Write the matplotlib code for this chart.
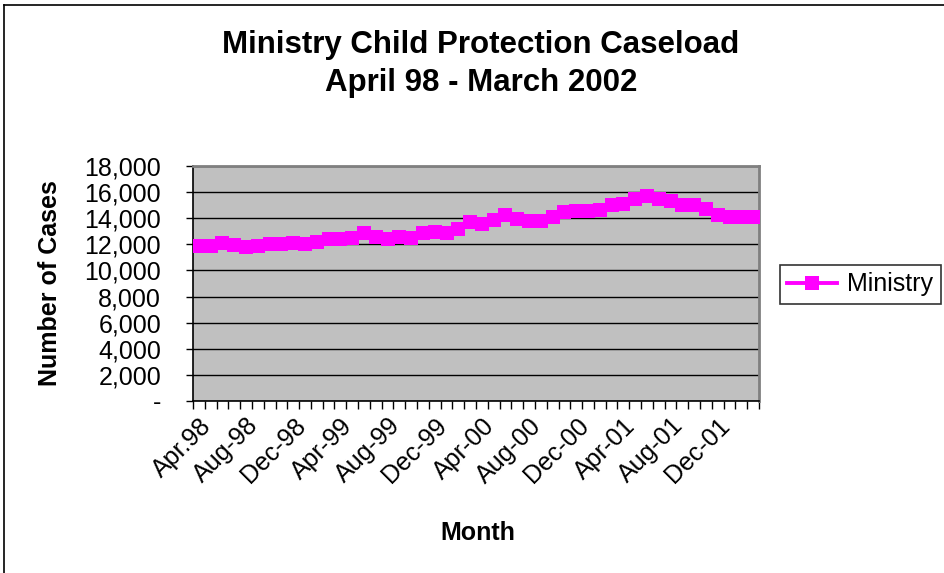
import numpy as np
import matplotlib
matplotlib.use("Agg")
import matplotlib.pyplot as plt
from matplotlib.lines import Line2D
from matplotlib.ticker import FuncFormatter

plt.rcParams['font.family'] = ['Liberation Sans', 'DejaVu Sans']

# Monthly child protection caseload, April 1998 - March 2002
months = ["Apr.98", "May-98", "Jun-98", "Jul-98", "Aug-98", "Sep-98", "Oct-98", "Nov-98",
          "Dec-98", "Jan-99", "Feb-99", "Mar-99", "Apr-99", "May-99", "Jun-99", "Jul-99",
          "Aug-99", "Sep-99", "Oct-99", "Nov-99", "Dec-99", "Jan-00", "Feb-00", "Mar-00",
          "Apr-00", "May-00", "Jun-00", "Jul-00", "Aug-00", "Sep-00", "Oct-00", "Nov-00",
          "Dec-00", "Jan-01", "Feb-01", "Mar-01", "Apr-01", "May-01", "Jun-01", "Jul-01",
          "Aug-01", "Sep-01", "Oct-01", "Nov-01", "Dec-01", "Jan-02", "Feb-02", "Mar-02"]
ministry = [11870, 11900, 12130, 11920, 11820, 11870, 12000, 12050,
            12100, 12050, 12150, 12380, 12420, 12490, 12850, 12590,
            12430, 12580, 12490, 12850, 12920, 12850, 13140, 13680,
            13590, 13870, 14220, 13920, 13820, 13820, 14120, 14440,
            14530, 14580, 14600, 15040, 15080, 15460, 15680, 15440,
            15320, 15050, 14980, 14680, 14270, 14120, 14080, 14080]
label_step = 4
y_max = 18000
y_step = 2000

W, H = 945, 573
fig = plt.figure(figsize=(W / 100, H / 100), dpi=100)

# outer chart border (left and top edges)
fig.add_artist(Line2D([4 / W, 4 / W], [0, 1 - 5 / H], color='black', lw=1.2,
                      transform=fig.transFigure))
fig.add_artist(Line2D([4 / W, 1], [1 - 5 / H, 1 - 5 / H], color='black', lw=1.2,
                      transform=fig.transFigure))

left, right, top, bottom = 193, 759, 166, 401
ax = fig.add_axes([left / W, 1 - bottom / H, (right - left) / W, (bottom - top) / H])
ax.set_facecolor('#C0C0C0')

x = np.arange(len(ministry))
ax.plot(x, ministry, color='#FF00FF', lw=2.8, marker='s', markersize=10.5,
        markeredgewidth=0, label='Ministry', zorder=3)

ax.set_xlim(-0.5, len(ministry) - 0.5)
ax.set_ylim(0, y_max)

# horizontal gridlines
ax.set_yticks(np.arange(0, y_max + 1, y_step))
ax.yaxis.grid(True, color='black', lw=1.0)
ax.set_axisbelow(True)
ax.yaxis.set_major_formatter(FuncFormatter(lambda v, p: '-' if v == 0 else f'{int(v):,}'))
ax.tick_params(axis='y', direction='out', length=5, width=1, pad=18, labelsize=18)

# category boundaries as ticks, month labels every fourth category
ax.set_xticks(np.arange(len(ministry) + 1) - 0.5)
ax.set_xticklabels([])
ax.tick_params(axis='x', which='major', direction='out', length=6, width=1)
ax.set_xticks(x[::label_step], minor=True)
ax.set_xticklabels(months[::label_step], minor=True, rotation=45, ha='right', va='top',
                   rotation_mode='anchor', fontsize=18)
ax.tick_params(axis='x', which='minor', length=0, pad=9)

for s in ['top', 'right']:
    ax.spines[s].set_color('#808080')
    ax.spines[s].set_linewidth(2)
for s in ['left', 'bottom']:
    ax.spines[s].set_color('black')
    ax.spines[s].set_linewidth(1.2)

fig.text(481 / W, 1 - 45 / H, 'Ministry Child Protection Caseload', ha='center', va='center',
         fontsize=22.5, fontweight='bold')
fig.text(481 / W, 1 - 83 / H, 'April 98 - March 2002', ha='center', va='center',
         fontsize=22.5, fontweight='bold')
fig.text(50 / W, 1 - 283 / H, 'Number of Cases', rotation=90, ha='center', va='center',
         fontsize=18, fontweight='bold')
fig.text(478 / W, 1 - 533 / H, 'Month', ha='center', va='center',
         fontsize=18, fontweight='bold')

leg = fig.legend(loc='upper left', bbox_to_anchor=(780 / W, 1 - 265 / H), fontsize=18,
                 frameon=True, fancybox=False, handlelength=2.0, handletextpad=0.4,
                 borderpad=0.3, borderaxespad=0)
leg.get_frame().set_edgecolor('black')
leg.get_frame().set_linewidth(1.2)

fig.savefig('out.png', dpi=100, facecolor='white')
